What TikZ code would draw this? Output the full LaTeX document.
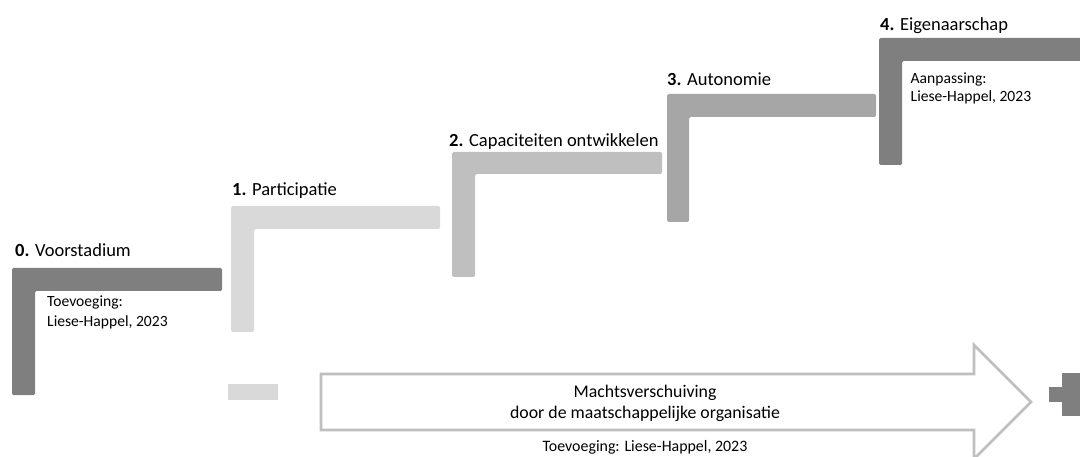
\documentclass[tikz,border=0pt]{standalone}
\usepackage{fontspec}
\setmainfont{Carlito}
\definecolor{stepdark}{HTML}{7F7F7F}
\definecolor{steplight}{HTML}{D9D9D9}
\definecolor{stepmid}{HTML}{BFBFBF}
\definecolor{stepgrey}{HTML}{A6A6A6}
\definecolor{arrowline}{HTML}{BFBFBF}
\begin{document}
\begin{tikzpicture}[x=1pt,y=-1pt,
  stair/.style={rounded corners=1.5pt},
  steplabel/.style={anchor=base west,inner sep=0pt,font=\fontsize{18.5}{22}\selectfont},
  credit/.style={anchor=base west,inner sep=0pt,font=\fontsize{15.6}{18}\selectfont},
  bandtext/.style={anchor=base,inner sep=0pt,font=\fontsize{17.8}{21}\selectfont},
]
\useasboundingbox (0,0) rectangle (1080,457);
\clip (0,0) rectangle (1080,457);

% stair steps: L-shaped bars (left, top, right end, bar bottom, upright right, upright bottom)
\newcommand{\stairstep}[7]{%
  \fill[#7,stair] (#1,#2) -- (#3,#2) -- (#3,#4) -- (#5,#4) -- (#5,#6) -- (#1,#6) -- cycle;}
\stairstep{12}{268}{222}{291}{35}{395}{stepdark}
\stairstep{231}{206}{440}{229}{254}{332}{steplight}
\stairstep{452}{152}{662}{174}{475}{277}{stepmid}
\stairstep{667}{94}{876}{117}{689}{222}{stepgrey}
\stairstep{879}{38}{1095}{61}{902}{165}{stepdark}

% step titles
\node[steplabel] (s0) at (15,257) {\textbf{0.} Voorstadium};
\node[steplabel] (s1) at (232,196) {\textbf{1.} Participatie};
\node[steplabel] (s2) at (449,147) {\textbf{2.} Capaciteiten ontwikkelen};
\node[steplabel] (s3) at (667,86) {\textbf{3.} Autonomie};
\node[steplabel] (s4) at (880,31) {\textbf{4.} Eigenaarschap};

% source notes
\node[credit] (c0a) at (47,307) {Toevoeging:};
\node[credit] (c0b) at (47,326.5) {Liese-Happel, 2023};
\node[credit] (c4a) at (910.5,83.5) {Aanpassing:};
\node[credit] (c4b) at (910.5,102) {Liese-Happel, 2023};

% power shift arrow
\draw[arrowline,line width=2.6pt,line join=miter]
  (321,374) -- (974,374) -- (974,345) -- (1031,402) -- (974,459) -- (974,430) -- (321,430) -- cycle;
\node[bandtext] (band1) at (645,397) {Machtsverschuiving};
\node[bandtext] (band2) at (645,418) {door de maatschappelijke organisatie};
\node[credit,anchor=base,font=\fontsize{15.9}{18}\selectfont] (c5) at (645,451) {Toevoeging: Liese-Happel, 2023};

% minus and plus signs
\fill[steplight] (228,384) rectangle (278,400);
\fill[stepdark] (1062,373) rectangle (1081,416);
\fill[stepdark] (1049,387) rectangle (1094,402);
\end{tikzpicture}
\end{document}
